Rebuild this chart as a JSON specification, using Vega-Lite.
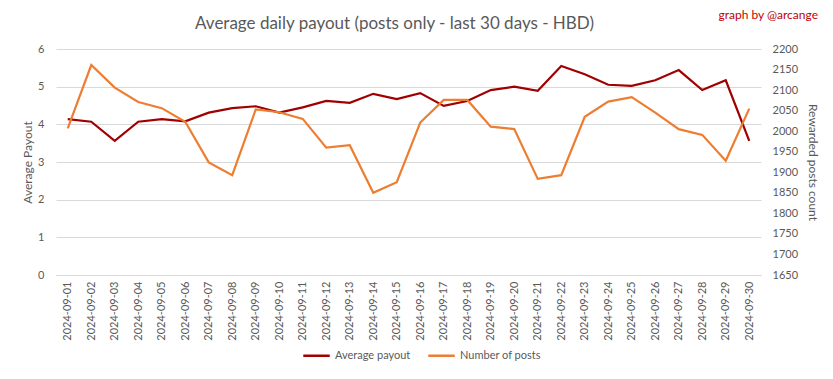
{
  "$schema": "https://vega.github.io/schema/vega-lite/v6.json",
  "width": 705,
  "height": 226,
  "autosize": {"type": "none"},
  "padding": {"left": 56, "top": 49, "right": 72, "bottom": 104},
  "background": "white",
  "config": {
    "font": "Lato",
    "view": {"stroke": null},
    "axis": {"labelColor": "#595959", "titleColor": "#595959", "labelFont": "Lato", "titleFont": "Lato", "titleFontWeight": "normal"}
  },
  "title": {
    "text": "Average daily payout (posts only - last 30 days - HBD)",
    "font": "Lato",
    "fontSize": 17,
    "fontWeight": "normal",
    "color": "#595959",
    "anchor": "middle",
    "offset": 16,
    "dx": -14,
    "dy": 40
  },
  "data": {
    "values": [
      {"date": "2024-09-01", "payout": 4.14, "posts": 2007},
      {"date": "2024-09-02", "payout": 4.07, "posts": 2161},
      {"date": "2024-09-03", "payout": 3.56, "posts": 2106},
      {"date": "2024-09-04", "payout": 4.07, "posts": 2071},
      {"date": "2024-09-05", "payout": 4.14, "posts": 2056},
      {"date": "2024-09-06", "payout": 4.08, "posts": 2023},
      {"date": "2024-09-07", "payout": 4.31, "posts": 1924},
      {"date": "2024-09-08", "payout": 4.43, "posts": 1893},
      {"date": "2024-09-09", "payout": 4.48, "posts": 2053},
      {"date": "2024-09-10", "payout": 4.31, "posts": 2046},
      {"date": "2024-09-11", "payout": 4.45, "posts": 2030},
      {"date": "2024-09-12", "payout": 4.62, "posts": 1960},
      {"date": "2024-09-13", "payout": 4.57, "posts": 1966},
      {"date": "2024-09-14", "payout": 4.81, "posts": 1850},
      {"date": "2024-09-15", "payout": 4.67, "posts": 1876},
      {"date": "2024-09-16", "payout": 4.83, "posts": 2021},
      {"date": "2024-09-17", "payout": 4.49, "posts": 2076},
      {"date": "2024-09-18", "payout": 4.62, "posts": 2076},
      {"date": "2024-09-19", "payout": 4.91, "posts": 2011},
      {"date": "2024-09-20", "payout": 5.0, "posts": 2005},
      {"date": "2024-09-21", "payout": 4.89, "posts": 1884},
      {"date": "2024-09-22", "payout": 5.55, "posts": 1893},
      {"date": "2024-09-23", "payout": 5.33, "posts": 2035},
      {"date": "2024-09-24", "payout": 5.05, "posts": 2072},
      {"date": "2024-09-25", "payout": 5.02, "posts": 2083},
      {"date": "2024-09-26", "payout": 5.17, "posts": 2045},
      {"date": "2024-09-27", "payout": 5.44, "posts": 2005},
      {"date": "2024-09-28", "payout": 4.91, "posts": 1991},
      {"date": "2024-09-29", "payout": 5.17, "posts": 1928},
      {"date": "2024-09-30", "payout": 3.56, "posts": 2055}
    ]
  },
  "encoding": {
    "x": {
      "field": "date",
      "type": "ordinal",
      "axis": {
        "title": null,
        "labelAngle": -90,
        "labelFontSize": 11,
        "labelPadding": 6,
        "ticks": false,
        "domain": true,
        "domainColor": "#d9d9d9",
        "grid": false
      }
    }
  },
  "layer": [
    {
      "layer": [
        {
          "mark": {"type": "line", "strokeWidth": 2.2},
          "encoding": {
            "y": {
              "field": "payout",
              "type": "quantitative",
              "scale": {"domain": [0, 6]},
              "axis": {
                "orient": "left",
                "title": "Average Payout",
                "titleFontSize": 12,
                "titlePadding": 3,
                "labelFontSize": 11,
                "labelPadding": 12,
                "values": [0, 1, 2, 3, 4, 5, 6],
                "ticks": false,
                "domain": false,
                "gridColor": "#d9d9d9",
                "gridWidth": 1
              }
            },
            "color": {
              "datum": "Average payout",
              "scale": {"domain": ["Average payout", "Number of posts"], "range": ["#a00000", "#ed7d31"]},
              "legend": {
                "title": null,
                "orient": "none",
                "legendX": 246,
                "legendY": 292,
                "direction": "horizontal",
                "symbolType": "stroke",
                "symbolSize": 700,
                "symbolStrokeWidth": 2.5,
                "labelFontSize": 11,
                "labelColor": "#595959",
                "columnPadding": 12
              }
            }
          }
        },
        {
          "data": {"values": [{"t": "graph by @arcange"}]},
          "mark": {"type": "text", "color": "#c00000", "fontSize": 12, "font": "Lato", "align": "center", "dx": 19},
          "encoding": {
            "text": {"field": "t"},
            "x": {"datum": "2024-09-30"},
            "y": {
              "datum": 6.9,
              "scale": {"domain": [0, 6]},
              "axis": {
                "orient": "left",
                "title": "Average Payout",
                "titleFontSize": 12,
                "titlePadding": 3,
                "labelFontSize": 11,
                "labelPadding": 12,
                "values": [0, 1, 2, 3, 4, 5, 6],
                "ticks": false,
                "domain": false,
                "gridColor": "#d9d9d9",
                "gridWidth": 1
              }
            }
          }
        }
      ]
    },
    {
      "mark": {"type": "line", "strokeWidth": 2.2},
      "encoding": {
        "y": {
          "field": "posts",
          "type": "quantitative",
          "scale": {"domain": [1650, 2200], "zero": false},
          "axis": {
            "orient": "right",
            "title": "Rewarded posts count",
            "titleFontSize": 12,
            "titlePadding": 8,
            "labelFontSize": 11,
            "labelPadding": 11,
            "format": "d",
            "values": [1650, 1700, 1750, 1800, 1850, 1900, 1950, 2000, 2050, 2100, 2150, 2200],
            "ticks": false,
            "domain": false,
            "grid": false
          }
        },
        "color": {"datum": "Number of posts"}
      }
    }
  ],
  "resolve": {"scale": {"y": "independent"}}
}
